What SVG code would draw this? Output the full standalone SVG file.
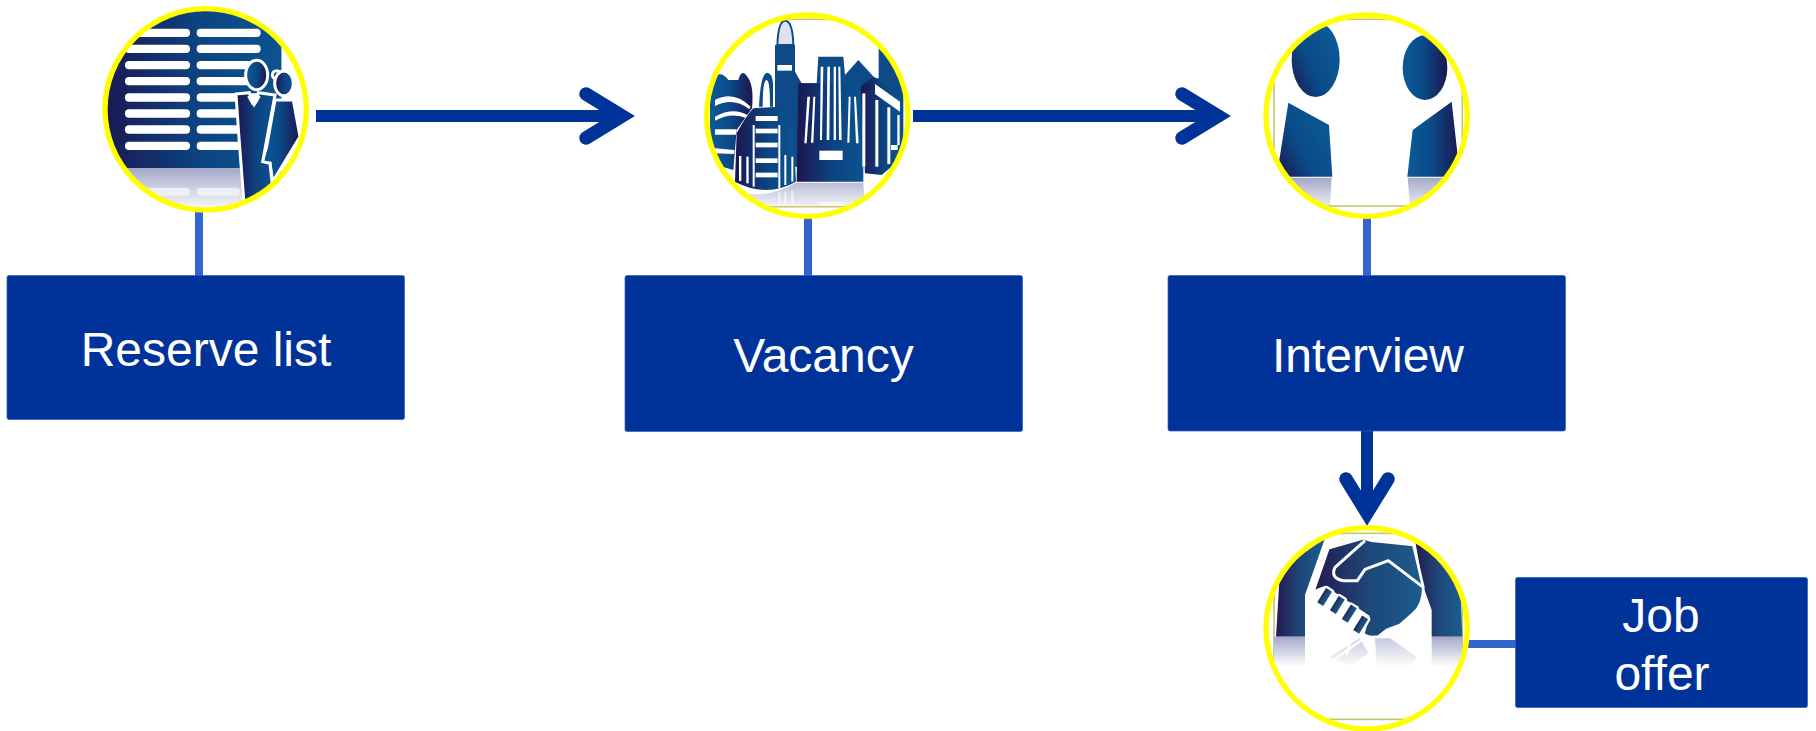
<svg xmlns="http://www.w3.org/2000/svg" width="1816" height="731" viewBox="0 0 1816 731">
<style>
.box{fill:#003399;stroke:#2f5cb8;stroke-width:.7}
.lbl{font-family:"Liberation Sans",Arial,sans-serif;font-size:48px;fill:#fff;text-anchor:middle}
.ring{fill:none;stroke:#ffff00;stroke-width:16}
.stem{stroke:#3366cc;stroke-width:8;fill:none}
.arrow{stroke:#003399;stroke-width:12;fill:none}
.head{stroke:#003399;stroke-width:13.5;fill:none;stroke-linecap:round;stroke-linejoin:miter;stroke-miterlimit:6}
.frame{fill:none;stroke:#b9b950;stroke-width:5;opacity:.8}
.ow{stroke:#fff;stroke-width:9}
</style>
<defs>
<linearGradient id="g1" x1="0" x2="1" y1="0" y2="0"><stop offset="0" stop-color="#1c1650"/><stop offset="0.55" stop-color="#0b4582"/><stop offset="1" stop-color="#0c5390"/></linearGradient>
<linearGradient id="g2" x1="1" x2="0" y1="0" y2="0"><stop offset="0" stop-color="#1c1650"/><stop offset="0.55" stop-color="#0b4a88"/><stop offset="1" stop-color="#0b5a98"/></linearGradient>
<linearGradient id="g3" x1="0" x2="1" y1="1" y2="0.3"><stop offset="0" stop-color="#1c1650"/><stop offset="0.45" stop-color="#0b4a88"/><stop offset="1" stop-color="#0b5a98"/></linearGradient>
<linearGradient id="g4" x1="0" x2="1" y1="0" y2="0"><stop offset="0" stop-color="#241a50"/><stop offset="0.5" stop-color="#1e4778"/><stop offset="1" stop-color="#1b5d90"/></linearGradient>
<linearGradient id="fade" x1="0" x2="0" y1="0" y2="1"><stop offset="0" stop-color="#a4a8c8"/><stop offset="1" stop-color="#fff"/></linearGradient>
<linearGradient id="fade2" x1="0" x2="0" y1="0" y2="1"><stop offset="0" stop-color="#a4a8c8"/><stop offset="1" stop-color="#e8e9f2"/></linearGradient>
<clipPath id="c1"><circle cx="347" cy="328" r="302"/></clipPath>
<clipPath id="c2"><circle cx="352" cy="347" r="302"/></clipPath>
<clipPath id="c3"><circle cx="350" cy="347" r="302"/></clipPath>
<clipPath id="c4"><circle cx="350" cy="355" r="302"/></clipPath>
</defs>
<g id="connectors">
<path class="stem" d="M199 210V276"/><path class="stem" d="M808 216V276"/><path class="stem" d="M1367 216V276"/><path class="stem" d="M1465 644H1516"/>
<path class="arrow" d="M316 116H622"/><path class="head" d="M586 94L622 116L586 138"/>
<path class="arrow" d="M913 116H1218"/><path class="head" d="M1182 94L1218 116L1182 138"/>
<path class="arrow" d="M1367 431V513"/><path class="head" d="M1346 479L1367 513L1388 479"/>
</g>
<g id="node-reserve" transform="translate(90 0) scale(.33333)">
<g clip-path="url(#c1)">
<rect x="30" y="10" width="640" height="640" fill="#fff"/>
<rect x="30" y="10" width="545" height="495" fill="url(#g1)"/>
<rect x="30" y="505" width="545" height="130" fill="url(#fade)"/>
<g fill="#fff">
<rect x="105" y="86" width="195" height="25" rx="12"/><rect x="320" y="86" width="192" height="25" rx="12"/>
<rect x="105" y="134" width="195" height="25" rx="12"/><rect x="320" y="134" width="192" height="25" rx="12"/>
<rect x="105" y="183" width="195" height="25" rx="12"/><rect x="320" y="183" width="192" height="25" rx="12"/>
<rect x="105" y="231" width="195" height="25" rx="12"/><rect x="320" y="231" width="192" height="25" rx="12"/>
<rect x="105" y="280" width="195" height="25" rx="12"/><rect x="320" y="280" width="192" height="25" rx="12"/>
<rect x="105" y="328" width="195" height="25" rx="12"/><rect x="320" y="328" width="192" height="25" rx="12"/>
<rect x="105" y="376" width="195" height="25" rx="12"/><rect x="320" y="376" width="192" height="25" rx="12"/>
<rect x="105" y="425" width="195" height="25" rx="12"/><rect x="320" y="425" width="192" height="25" rx="12"/>
<rect x="105" y="563" width="195" height="24" rx="12" opacity=".6"/><rect x="320" y="563" width="130" height="24" rx="12" opacity=".6"/>
</g>
<rect x="575" y="100" width="70" height="400" fill="#fff"/>
<path class="ow" d="M555 300H610L630 410L548 545L540 490H515L530 440Z" fill="url(#g2)"/>
<path class="ow" d="M438 282L478 278L492 312L505 278L555 285L518 485L540 490L548 565L462 610L446 400Z" fill="url(#g1)"/>
<path d="M478 285L492 312L505 285L512 290L497 316L486 316L472 290Z" fill="#fff"/>
<ellipse class="ow" cx="500" cy="225" rx="33" ry="44" fill="url(#g2)"/>
<circle class="ow" cx="560" cy="225" r="13" fill="#0b4a88"/>
<ellipse class="ow" cx="582" cy="250" rx="28" ry="37" fill="url(#g1)"/>
</g>
<circle class="ring" cx="347" cy="328" r="302"/>
</g>
<g id="box-reserve"><rect class="box" x="7" y="275.500" width="397.500" height="144" rx="2"/><text class="lbl" x="206" y="366">Reserve list</text></g>
<g id="node-vacancy" transform="translate(690 0) scale(.33333)">
<g clip-path="url(#c2)">
<rect x="40" y="40" width="630" height="630" fill="#fff"/>
<rect class="frame" x="70" y="58" width="565" height="562"/>
<path d="M262 135Q265 62 285 62Q308 62 310 135Z" fill="#dfe3ef" stroke="#0e4a88" stroke-width="6"/>
<path d="M255 135H315V215L335 250H380L385 170H460L465 225L505 180L555 235L566 235V140L640 230V500H255Z" fill="#0e4a88"/>
<rect x="262" y="195" width="44" height="17" fill="#fff"/>
<path d="M60 240Q90 205 115 240H145Q155 200 175 235Q192 260 186 325L140 390L130 510L60 490Z" fill="url(#g2)"/>
<path d="M207 320Q212 218 232 218Q247 220 249 250V320H240Q240 240 230 240Q218 240 218 320Z" fill="#0e4a88"/>
<g fill="#fff">
<path d="M75 300Q130 270 182 320L178 328Q130 290 75 318ZM75 350Q130 320 172 345L170 355Q125 335 75 362ZM75 388H140L138 404H75ZM75 445L134 450L132 462L75 460Z"/>
</g>
<path d="M135 545L140 400Q170 345 190 325L265 320L310 390L318 545Q230 595 135 545Z" fill="url(#g1)"/>
<path d="M325 250H520V545H320Z" fill="url(#g1)"/>
<path d="M512 258L552 230L635 295L640 470L575 525L525 520Z" fill="url(#g1)"/>
<g fill="#fff">
<rect x="197" y="348" width="66" height="15"/><rect x="197" y="386" width="66" height="14"/><rect x="197" y="428" width="66" height="14"/><rect x="197" y="475" width="66" height="14"/><rect x="197" y="518" width="66" height="14"/>
<rect x="188" y="375" width="6" height="185"/><rect x="265" y="375" width="6" height="190"/><rect x="147" y="468" width="7" height="75"/><rect x="169" y="470" width="7" height="80"/><rect x="283" y="465" width="6" height="90"/><rect x="304" y="470" width="6" height="75"/>
<path d="M392 200H400L396 420H390ZM412 200H420L418 420H410ZM431 200H438L438 420H431ZM445 200H451L455 420H447Z"/>
<path d="M352 290H360L350 430H343ZM370 290H376L370 428H363ZM476 290H482L478 428H472ZM492 290H498L506 430H498Z"/>
<rect x="388" y="452" width="70" height="28"/>
<path d="M555 252L630 305V335L555 282Z"/>
<rect x="517" y="280" width="9" height="220"/><rect x="556" y="300" width="9" height="200"/><rect x="592" y="322" width="9" height="170"/><rect x="622" y="345" width="7" height="90"/><rect x="603" y="435" width="20" height="15"/>
</g>
<path d="M130 575Q230 600 318 548H520L525 615H130Z" fill="url(#fade2)" opacity=".75"/>
<g fill="#fff" opacity=".6"><rect x="265" y="575" width="6" height="40"/><rect x="283" y="575" width="6" height="40"/><rect x="304" y="570" width="6" height="45"/><rect x="388" y="605" width="70" height="12"/></g>
</g>
<circle class="ring" cx="352" cy="347" r="302"/>
</g>
<g id="box-vacancy"><rect class="box" x="625" y="275.500" width="397.500" height="156" rx="2"/><text class="lbl" x="823.500" y="372">Vacancy</text></g>
<g id="node-interview" transform="translate(1250 0) scale(.33333)">
<g clip-path="url(#c3)">
<rect x="40" y="40" width="630" height="630" fill="#fff"/>
<rect class="frame" x="72" y="58" width="565" height="560"/>
<ellipse cx="197" cy="178" rx="72" ry="113" fill="url(#g3)"/>
<ellipse cx="525" cy="203" rx="67" ry="97" fill="url(#g2)"/>
<path d="M115 308L237 375L247 530H80Z" fill="url(#g3)"/>
<path d="M605 305L488 390L472 530H630Z" fill="url(#g2)"/>
<path d="M75 533H245L240 615H75Z" fill="url(#fade2)"/>
<path d="M473 533H635V615H480Z" fill="url(#fade2)"/>
</g>
<circle class="ring" cx="350" cy="347" r="302"/>
</g>
<g id="box-interview"><rect class="box" x="1168" y="275.500" width="397.500" height="155.500" rx="2"/><text class="lbl" x="1368" y="372">Interview</text></g>
<g id="node-offer" transform="translate(1250 510) scale(.33333)">
<g clip-path="url(#c4)">
<rect x="40" y="40" width="630" height="630" fill="#fff"/>
<rect class="frame" x="72" y="70" width="565" height="558"/>
<path d="M78 380L90 180L225 85L165 255V380Z" fill="url(#g4)"/>
<path d="M495 90L630 200L637 380H545V300L520 230Z" fill="url(#g4)"/>
<path d="M235 115L340 85L365 92L490 105L520 232Q520 285 490 310L450 345L410 360L385 380Q350 385 340 370L355 320L225 232L190 245Z" fill="url(#g4)" stroke="#fff" stroke-width="8" stroke-linejoin="round"/>
<path d="M345 92L255 172Q240 205 280 212H322L345 178L415 152L520 232" fill="none" stroke="#fff" stroke-width="9" stroke-linejoin="round"/>
<g fill="url(#g4)" stroke="#fff" stroke-width="7">
<rect x="210" y="232" width="28" height="58" rx="5" transform="rotate(32 224 261)"/>
<rect x="248" y="256" width="28" height="58" rx="5" transform="rotate(32 262 285)"/>
<rect x="284" y="282" width="28" height="58" rx="5" transform="rotate(32 298 311)"/>
<rect x="318" y="315" width="28" height="58" rx="5" transform="rotate(32 332 344)"/>
</g>
<rect x="72" y="380" width="93" height="90" fill="url(#fade)"/>
<rect x="545" y="380" width="92" height="90" fill="url(#fade)"/>
<g opacity=".6">
<path d="M330 385L355 430L300 470L240 440ZM375 385H420L500 440L480 470H380Z" fill="url(#fade)"/>
<path d="M335 390L250 450M300 395L290 435" stroke="#fff" stroke-width="7" fill="none"/>
</g>
</g>
<circle class="ring" cx="350" cy="355" r="302"/>
</g>
<g id="box-offer"><rect class="box" x="1515.500" y="577.500" width="292" height="130" rx="2"/><text class="lbl" x="1661" y="632">Job</text><text class="lbl" x="1662" y="690">offer</text></g>
</svg>
